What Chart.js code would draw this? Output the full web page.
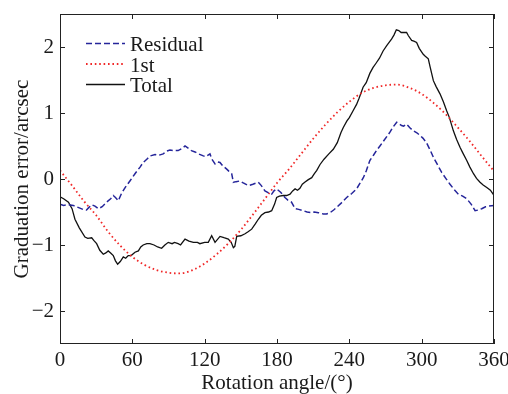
<!DOCTYPE html>
<html>
<head>
<meta charset="utf-8">
<script src="https://cdn.jsdelivr.net/npm/chart.js@4/dist/chart.umd.min.js"></script>
<style>
html,body{margin:0;padding:0;background:#fff;}
#wrap{width:508px;height:394px;}
</style>
</head>
<body>
<div id="wrap"><canvas id="c" width="508" height="394"></canvas></div>
<script>
// ---- data ----
const xTicks = [0, 60, 120, 180, 240, 300, 360];
const yTicks = [-2, -1, 0, 1, 2];
const seriesNames = ["Residual", "1st", "Total"];

const residualAngle = [0,3,7,11,15,19,22,24,26.3,29,31.8,35,38.7,42,44.2,46,48.4,51,54,58,62.2,66.4,69,72,75,78.8,82,85.6,88,91.2,94,98,101,103.7,106,109,112,115,118.9,121,124.4,126,128.6,130.5,132.7,135,138.3,140,142.4,143.8,146,149.3,152,156.2,160,164.5,167,170,173,175.6,177.5,179.7,183,186.6,189,192,195,198,201.8,205,208.8,211,214.3,218.4,221,224,227,229.5,233,237.8,242,246,249,251.6,254,257,260,262.5,265.4,269,273.7,276,279.3,281,283.4,285,287.5,290,293,296,298.6,301,304,307,309.7,313,316.6,320,323.5,327,330.4,334,337.4,341,344.3,347,349.8,353,356,360];
const residualValue = [-0.38,-0.40,-0.39,-0.40,-0.43,-0.46,-0.47,-0.43,-0.39,-0.41,-0.45,-0.42,-0.35,-0.30,-0.25,-0.28,-0.33,-0.22,-0.13,-0.03,0.08,0.18,0.25,0.30,0.35,0.37,0.36,0.38,0.42,0.44,0.43,0.43,0.46,0.50,0.47,0.43,0.41,0.38,0.35,0.34,0.38,0.30,0.23,0.26,0.25,0.20,0.15,0.12,0.08,-0.05,-0.04,-0.03,-0.06,-0.10,-0.08,-0.05,-0.10,-0.18,-0.21,-0.23,-0.18,-0.15,-0.20,-0.28,-0.32,-0.35,-0.45,-0.46,-0.48,-0.50,-0.51,-0.50,-0.51,-0.53,-0.53,-0.51,-0.47,-0.43,-0.37,-0.28,-0.22,-0.15,-0.06,0.02,0.12,0.28,0.36,0.43,0.50,0.59,0.71,0.78,0.86,0.84,0.81,0.80,0.83,0.78,0.73,0.70,0.66,0.62,0.55,0.44,0.33,0.22,0.10,0.01,-0.08,-0.16,-0.23,-0.26,-0.30,-0.38,-0.48,-0.47,-0.45,-0.42,-0.41,-0.40];

const firstAngle = [0,10,20,30,40,50,60,70,80,90,100,110,120,130,140,150,160,170,180,190,200,210,220,230,240,250,260,270,280,290,300,310,320,330,340,350,360];
const firstValue = [0.13,-0.10,-0.34,-0.55,-0.80,-1.01,-1.18,-1.30,-1.38,-1.42,-1.43,-1.38,-1.28,-1.14,-0.97,-0.77,-0.54,-0.30,-0.06,0.15,0.38,0.61,0.82,1.01,1.17,1.30,1.38,1.42,1.43,1.38,1.29,1.15,0.98,0.78,0.57,0.34,0.12];

const totalAngle = [0,3,7,10,12.4,16,20.7,23,26.3,28,30.4,33,35.9,38,40,42,44.2,46,47.8,50,52.5,54.5,56.6,59,62.2,65,67,69,72,74.6,78,81,84.3,87,89.8,93,95,98,100,103.7,107,110.6,114,116,120,123,125.8,128.6,132.7,136,139.6,142,143.8,145,146.6,150,153.5,156,159,162,164.5,167,170,173,175.6,178,179.7,182,185.2,188,190.8,193,195,197,199,201,203,206,208.8,211,213,215.7,219,223,226.7,230,233,235,238,240,243,246,248,251.4,254,257,259.7,262,265,268,271,275,277,279,281,283,287.5,289,291.7,293.5,295.8,298,301.3,303,305.5,307,309.7,312,315.2,318,320.8,323,326.3,329,331.8,334,337.4,340,343,345.5,348.4,351,354,357,360];
const totalValue = [-0.27,-0.30,-0.35,-0.45,-0.61,-0.74,-0.88,-0.90,-0.89,-0.93,-0.98,-1.08,-1.14,-1.12,-1.09,-1.12,-1.16,-1.24,-1.29,-1.25,-1.18,-1.20,-1.16,-1.16,-1.11,-1.09,-1.03,-1.00,-0.98,-0.98,-1.00,-1.03,-1.05,-1.00,-0.96,-0.98,-0.96,-0.98,-1.00,-0.91,-0.94,-0.96,-0.96,-0.98,-0.96,-0.96,-0.86,-0.96,-0.87,-0.89,-0.91,-0.96,-1.04,-1.02,-0.87,-0.86,-0.83,-0.80,-0.76,-0.68,-0.61,-0.55,-0.51,-0.50,-0.48,-0.38,-0.28,-0.26,-0.25,-0.25,-0.23,-0.18,-0.15,-0.17,-0.14,-0.08,-0.05,-0.01,0.02,0.08,0.13,0.22,0.30,0.38,0.45,0.55,0.70,0.78,0.88,0.93,1.03,1.13,1.22,1.39,1.46,1.60,1.69,1.75,1.83,1.94,2.02,2.12,2.18,2.26,2.25,2.22,2.22,2.17,2.10,2.09,2.07,1.98,1.89,1.86,1.82,1.70,1.49,1.40,1.29,1.17,1.03,0.93,0.73,0.60,0.48,0.40,0.28,0.18,0.08,0.01,-0.05,-0.09,-0.13,-0.17,-0.25];

const pts = (xs, ys) => xs.map((x, i) => ({x: x, y: ys[i]}));

const FONT = "'Liberation Serif', 'Times New Roman', serif";
const TXT = '#1a1a1a';

// ---- plugins ----
const framePlugin = {
  id: 'frame',
  afterDraw(chart) {
    const {ctx, chartArea: a, scales: {x, y}} = chart;
    ctx.save();
    ctx.strokeStyle = '#222';
    ctx.lineWidth = 1;
    ctx.strokeRect(a.left + 0.5, a.top + 0.5, a.right - a.left - 1, a.bottom - a.top - 1);
    const L = 5;
    ctx.beginPath();
    xTicks.forEach(v => {
      const px = Math.round(x.getPixelForValue(v)) + 0.5;
      ctx.moveTo(px, a.bottom); ctx.lineTo(px, a.bottom - L);
      ctx.moveTo(px, a.top); ctx.lineTo(px, a.top + L);
    });
    yTicks.forEach(v => {
      const py = Math.round(y.getPixelForValue(v)) + 0.5;
      ctx.moveTo(a.left, py); ctx.lineTo(a.left + L, py);
      ctx.moveTo(a.right, py); ctx.lineTo(a.right - L, py);
    });
    ctx.stroke();
    ctx.restore();
  }
};

const legendPlugin = {
  id: 'innerLegend',
  afterDatasetsDraw(chart) {
    const {ctx, chartArea: a} = chart;
    ctx.save();
    const x0 = a.left + 26, x1 = a.left + 65, tx = a.left + 70;
    const rows = [37, 57.5, 78];
    chart.data.datasets.forEach((ds, i) => {
      const yb = a.top + rows[i];
      const ly = yb - 7.5;
      ctx.strokeStyle = ds.borderColor;
      ctx.lineWidth = ds.borderWidth;
      ctx.setLineDash(ds.borderDash || []);
      ctx.beginPath();
      ctx.moveTo(x0, ly); ctx.lineTo(x1, ly);
      ctx.stroke();
      ctx.setLineDash([]);
      ctx.fillStyle = TXT;
      ctx.font = '21px ' + FONT;
      ctx.textBaseline = 'alphabetic';
      ctx.textAlign = 'left';
      ctx.fillText(ds.label, tx, yb);
    });
    ctx.restore();
  }
};

new Chart(document.getElementById('c'), {
  type: 'line',
  data: {
    datasets: [
      {label: seriesNames[0], data: pts(residualAngle, residualValue), borderColor: '#25259a', borderWidth: 1.5, borderDash: [6, 3], pointRadius: 0, tension: 0, fill: false},
      {label: seriesNames[1], data: pts(firstAngle, firstValue), borderColor: '#f02828', borderWidth: 1.8, borderDash: [1.6, 2.8], pointRadius: 0, tension: 0.4, cubicInterpolationMode: 'monotone', fill: false},
      {label: seriesNames[2], data: pts(totalAngle, totalValue), borderColor: '#111', borderWidth: 1.3, pointRadius: 0, tension: 0, fill: false}
    ]
  },
  options: {
    responsive: false,
    animation: false,
    events: [],
    layout: {padding: {left: 0, right: 14, top: 14, bottom: 0}},
    plugins: {legend: {display: false}, tooltip: {enabled: false}},
    scales: {
      x: {
        type: 'linear', min: 0, max: 360,
        afterBuildTicks: s => { s.ticks = xTicks.map(v => ({value: v})); },
        afterFit: s => { s.height = 50; s.paddingLeft = 0; s.paddingRight = 0; },
        grid: {display: false, drawTicks: false},
        border: {display: false},
        ticks: {color: TXT, font: {family: FONT, size: 21}, padding: 4, maxRotation: 0, autoSkip: false},
        title: {display: true, text: 'Rotation angle/(°)', color: TXT, font: {family: FONT, size: 21, lineHeight: 1}, padding: {top: 0, bottom: 0}}
      },
      y: {
        type: 'linear', min: -2.5, max: 2.5,
        afterBuildTicks: s => { s.ticks = yTicks.map(v => ({value: v})); },
        afterFit: s => { s.width = 60; s.paddingTop = 0; s.paddingBottom = 0; },
        grid: {display: false, drawTicks: false},
        border: {display: false},
        ticks: {color: TXT, font: {family: FONT, size: 21}, padding: 6, callback: v => (v < 0 ? '\u2212' + Math.abs(v) : String(v))},
        title: {display: true, text: 'Graduation error/arcsec', color: TXT, font: {family: FONT, size: 21, lineHeight: 1}, padding: {top: 12, bottom: 0}}
      }
    }
  },
  plugins: [framePlugin, legendPlugin]
});
</script>
</body>
</html>
